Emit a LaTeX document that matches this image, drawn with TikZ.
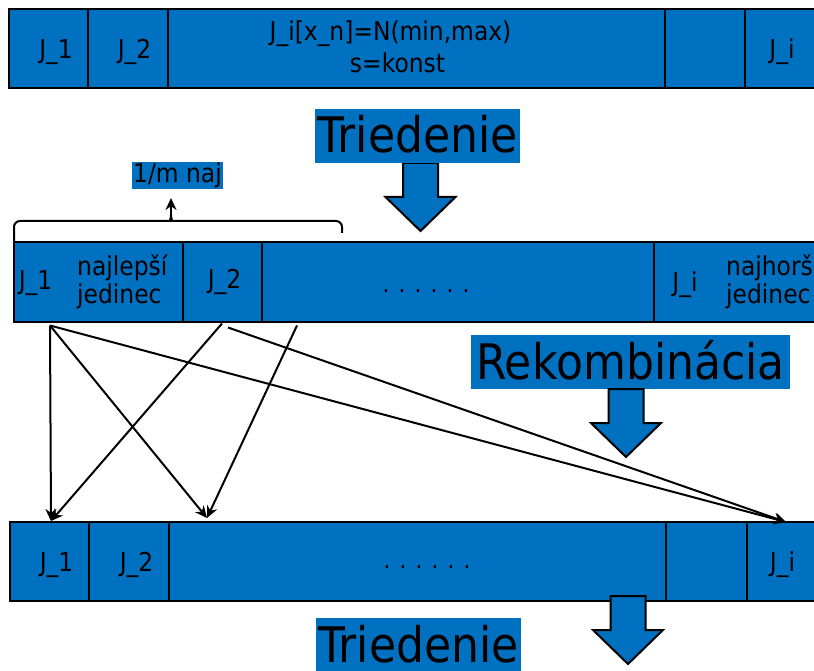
\documentclass[tikz,border=0pt]{standalone}
\usepackage{fontspec}
\setmainfont{DejaVu Sans}[FakeStretch=0.9]
\usetikzlibrary{arrows.meta, positioning}
\definecolor{cellBlue}{HTML}{0070C0}

\begin{document}
\begin{tikzpicture}[x=1pt, y=-1pt,
    cell/.style={draw, fill=cellBlue, line width=2pt, outer sep=0pt, inner sep=0pt, minimum height=79pt, anchor=north west},
    txt/.style={font=\fontsize{26}{31}\selectfont, inner sep=0pt, anchor=base},
    tag/.style={fill=cellBlue, font=\fontsize{49}{58}\selectfont, inner xsep=2pt, inner ysep=0pt, text height=44pt, text depth=10pt, anchor=base},
    link/.style={-{Stealth[length=12pt, width=11pt]}, line width=2pt},
    blockdown/.pic={\draw[line width=2pt, fill=cellBlue] (-17.5,-68) -- (17.5,-68) -- (17.5,-34) -- (35,-34) -- (0,0) -- (-35,-34) -- (-17.5,-34) -- cycle;},
]
    \useasboundingbox (0,0) rectangle (814,671);

    % population before sorting
    \node[cell, minimum width=79.5pt] (r1a) at (8.5,9.5) {};
    \node[cell, minimum width=80pt, right=0pt of r1a] (r1b) {};
    \node[cell, minimum width=497pt, right=0pt of r1b] (r1c) {};
    \node[cell, minimum width=80pt, right=0pt of r1c] (r1d) {};
    \node[cell, minimum width=80pt, right=0pt of r1d] (r1e) {};
    \node[txt] (t1a) at (56,59) {J\_1};
    \node[txt] (t1b) at (134.5,59) {J\_2};
    \node[txt] (t1c) at (390.5,41) {J\_i[x\_n]=N(min,max)};
    \node[txt] (t1d) at (397.5,73) {s=konst};
    \node[txt] (t1e) at (782,59) {J\_i};

    \pic at (420.5,231) {blockdown};
    \node[tag] (sort1) at (417.5,153) {Triedenie};

    % sorted population
    \node[cell, minimum width=169pt] (r2a) at (14,242.5) {};
    \node[cell, minimum width=79pt, right=0pt of r2a] (r2b) {};
    \node[cell, minimum width=392pt, right=0pt of r2b] (r2c) {};
    \node[cell, minimum width=170pt, right=0pt of r2c] (r2d) {};
    \node[txt] (t2a) at (35.5,289) {J\_1};
    \node[txt, anchor=base west] (best1) at (77,275) {najlepší};
    \node[txt, anchor=base west] (best2) at (77,303) {jedinec};
    \node[txt] (t2b) at (224.5,288) {J\_2};
    \node[txt, font=\fontsize{24}{29}\selectfont] (t2c) at (426,292) {. . . . . .};
    \node[txt] (t2d) at (685,291) {J\_i};
    \node[txt, anchor=base west] (worst1) at (726,275) {najhorší};
    \node[txt, anchor=base west] (worst2) at (726,303) {jedinec};

    % best part
    \node[tag, font=\fontsize{26}{31}\selectfont, inner xsep=1.5pt, text height=21pt, text depth=6pt] (best) at (177.5,183) {1/m naj};
    \coordinate (nub) at (171,215);
    \draw[line width=2pt, rounded corners=6pt] (r2a.north west) -- (14,221) -- (165,221) .. controls (169,221) and (171,219) .. (nub);
    \draw[line width=2pt, rounded corners=6pt] (342,233) -- (342,221) -- (177,221) .. controls (173,221) and (171,219) .. (nub);
    \draw[-{Stealth[length=12pt, width=11pt]}, line width=2pt] (nub) -- ++(0,-17);

    \node[tag, inner xsep=5pt] (recomb) at (630.5,379) {Rekombinácia};
    \pic at (626,457) {blockdown};

    % new population
    \node[cell, minimum width=79pt] (r3a) at (10,522) {};
    \node[cell, minimum width=80pt, right=0pt of r3a] (r3b) {};
    \node[cell, minimum width=497pt, right=0pt of r3b] (r3c) {};
    \node[cell, minimum width=81pt, right=0pt of r3c] (r3d) {};
    \node[cell, minimum width=80pt, right=0pt of r3d] (r3e) {};
    \node[txt] (t3a) at (56.5,571) {J\_1};
    \node[txt] (t3b) at (136.5,571) {J\_2};
    \node[txt, font=\fontsize{24}{29}\selectfont] (t3c) at (427,568) {. . . . . .};
    \node[txt] (t3e) at (782.5,571) {J\_i};

    \coordinate (s1) at ([xshift=36pt, yshift=-4pt]r2a.south west);
    \coordinate (s2) at ([xshift=39pt, yshift=-2pt]r2b.south west);
    \coordinate (s3) at ([xshift=45pt, yshift=-6pt]r2b.south west);
    \coordinate (s4) at ([xshift=35pt, yshift=-4pt]r2c.south west);
    \coordinate (e1) at ([xshift=41pt, yshift=1pt]r3a.north west);
    \coordinate (e2) at ([xshift=38pt, yshift=4pt]r3c.north west);
    \coordinate (e3) at ([xshift=39pt]r3e.north west);
    \draw[link] (s1) -- (e1);
    \draw[link] (s1) -- (e2);
    \draw[link] (s1) -- (e3);
    \draw[link] (s2) -- (e1);
    \draw[link] (s4) -- (e2);
    \draw[link] (s3) -- (e3);

    \pic at (628,664) {blockdown};
    \node[tag] (sort2) at (418.5,662) {Triedenie};
\end{tikzpicture}
\end{document}
